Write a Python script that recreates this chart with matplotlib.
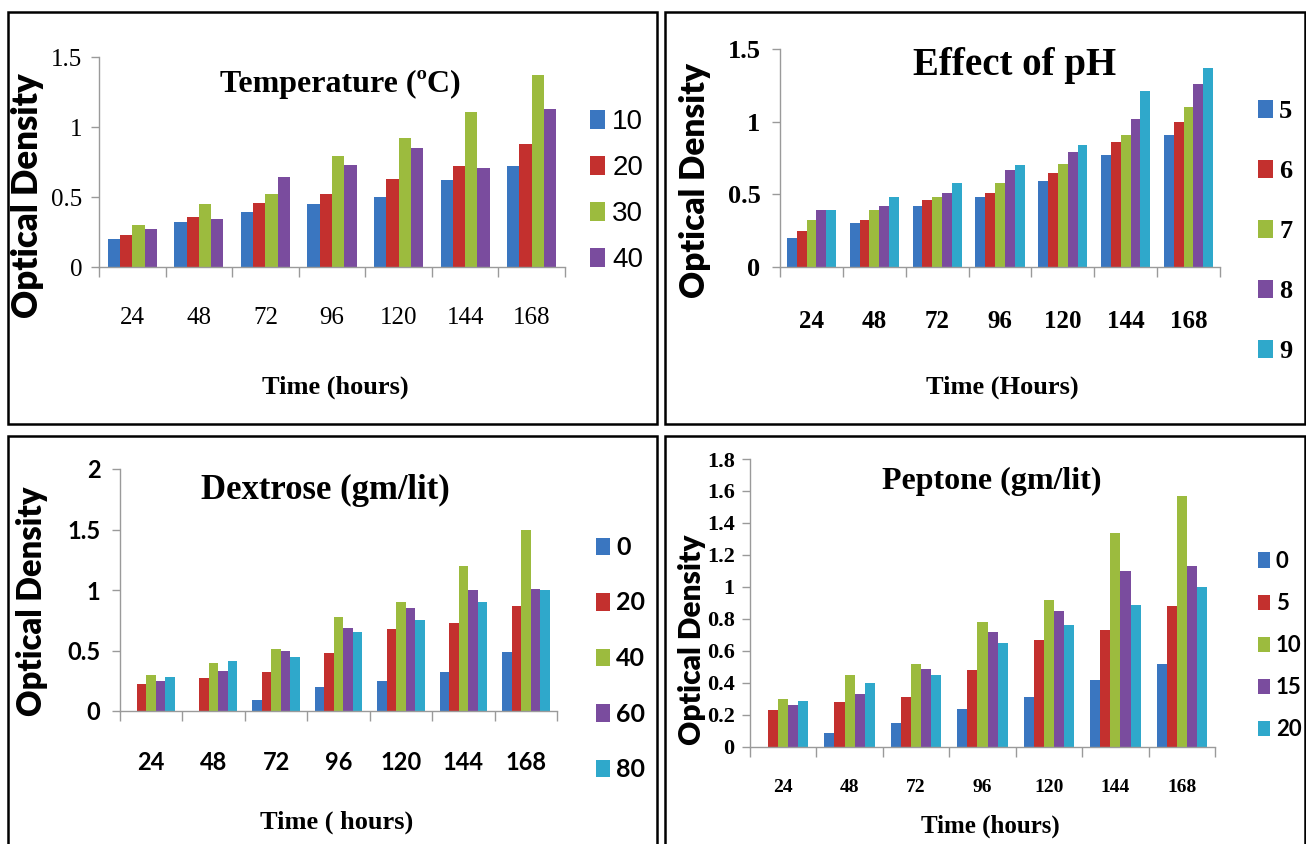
import matplotlib
matplotlib.use("Agg")
import matplotlib.pyplot as plt
import matplotlib.patches as mpatches
import numpy as np
from matplotlib.font_manager import FontProperties

hours = ["24", "48", "72", "96", "120", "144", "168"]

# Temperature (C)
temp_levels = ["10", "20", "30", "40"]
temp_10 = [0.20, 0.32, 0.39, 0.45, 0.50, 0.62, 0.72]
temp_20 = [0.23, 0.36, 0.46, 0.52, 0.63, 0.72, 0.88]
temp_30 = [0.30, 0.45, 0.52, 0.79, 0.92, 1.11, 1.37]
temp_40 = [0.27, 0.34, 0.64, 0.73, 0.85, 0.71, 1.13]

# pH
ph_levels = ["5", "6", "7", "8", "9"]
ph_5 = [0.20, 0.30, 0.42, 0.48, 0.59, 0.77, 0.91]
ph_6 = [0.25, 0.32, 0.46, 0.51, 0.65, 0.86, 1.00]
ph_7 = [0.32, 0.39, 0.48, 0.58, 0.71, 0.91, 1.10]
ph_8 = [0.39, 0.42, 0.51, 0.67, 0.79, 1.02, 1.26]
ph_9 = [0.39, 0.48, 0.58, 0.70, 0.84, 1.21, 1.37]

# Dextrose (gm/lit)
dex_levels = ["0", "20", "40", "60", "80"]
dex_0 = [0.0, 0.0, 0.09, 0.20, 0.25, 0.32, 0.49]
dex_20 = [0.22, 0.27, 0.32, 0.48, 0.68, 0.73, 0.87]
dex_40 = [0.30, 0.40, 0.51, 0.78, 0.90, 1.20, 1.50]
dex_60 = [0.25, 0.33, 0.50, 0.69, 0.85, 1.00, 1.01]
dex_80 = [0.28, 0.41, 0.45, 0.65, 0.75, 0.90, 1.00]

# Peptone (gm/lit)
pep_levels = ["0", "5", "10", "15", "20"]
pep_0 = [0.0, 0.09, 0.15, 0.24, 0.31, 0.42, 0.52]
pep_5 = [0.23, 0.28, 0.31, 0.48, 0.67, 0.73, 0.88]
pep_10 = [0.30, 0.45, 0.52, 0.78, 0.92, 1.34, 1.57]
pep_15 = [0.26, 0.33, 0.49, 0.72, 0.85, 1.10, 1.13]
pep_20 = [0.29, 0.40, 0.45, 0.65, 0.76, 0.89, 1.00]

colors = ["#3a76c0", "#c3302e", "#9cbb3e", "#7a4c9e", "#2fa8cb"]
gray = "#9a9a9a"

W, H = 1306, 844
fig = plt.figure(figsize=(W / 100, H / 100), dpi=100)
fig.patch.set_facecolor("white")


def fx(px):
    return px / W


def fy(py):
    return 1 - py / H


def font(family, size, weight="normal"):
    return FontProperties(family=family, size=size, weight=weight)


serif = ["Liberation Serif", "DejaVu Serif"]
sans = ["Lato", "DejaVu Sans"]
narrow = ["Liberation Sans Narrow", "Liberation Sans", "DejaVu Sans"]

panels = [
    dict(box=(8, 12, 657, 424), axes=(99, 565, 57, 267),
         series=[temp_10, temp_20, temp_30, temp_40], labels=temp_levels,
         ymax=1.5, ystep=0.5, group=0.74,
         title="Temperature (ºC)", title_xy=(340, 84), title_font=font(serif, 23, "bold"),
         xlabel="Time (hours)", xlabel_xy=(335, 387), xlabel_font=font(serif, 19, "bold"),
         ylabel_xy=(28, 196), ylabel_font=font(sans, 25, "heavy"),
         xtick_font=font(serif, 18), ytick_font=font(serif, 18), xpad=29, ypad=6,
         leg_xy=(590, 109), leg_font=font(narrow, 20), leg_space=0.72),
    dict(box=(665, 12, 1305, 424), axes=(780, 1220, 49, 267),
         series=[ph_5, ph_6, ph_7, ph_8, ph_9], labels=ph_levels,
         ymax=1.5, ystep=0.5, group=0.78,
         title="Effect of pH", title_xy=(1015, 66), title_font=font(serif, 28, "bold"),
         xlabel="Time (Hours)", xlabel_xy=(1002, 387), xlabel_font=font(serif, 19, "bold"),
         ylabel_xy=(695, 180), ylabel_font=font(sans, 24, "heavy"),
         xtick_font=font(serif, 18, "bold"), ytick_font=font(serif, 19, "bold"), xpad=31, ypad=8,
         leg_xy=(1258, 100), leg_font=font(serif, 19, "bold"), leg_space=1.38),
    dict(box=(8, 436, 657, 860), axes=(120, 557, 469, 711),
         series=[dex_0, dex_20, dex_40, dex_60, dex_80], labels=dex_levels,
         ymax=2.0, ystep=0.5, group=0.76,
         title="Dextrose (gm/lit)", title_xy=(325, 490), title_font=font(serif, 25, "bold"),
         xlabel="Time ( hours)", xlabel_xy=(337, 822), xlabel_font=font(serif, 19, "bold"),
         ylabel_xy=(32, 601), ylabel_font=font(sans, 23.5, "heavy"),
         xtick_font=font(sans, 17, "bold"), ytick_font=font(sans, 17, "bold"), xpad=29, ypad=8,
         leg_xy=(596, 536), leg_font=font(sans, 18, "bold"), leg_space=1.3),
    dict(box=(665, 436, 1305, 860), axes=(750, 1215, 459, 747),
         series=[pep_0, pep_5, pep_10, pep_15, pep_20], labels=pep_levels,
         ymax=1.8, ystep=0.2, group=0.76,
         title="Peptone (gm/lit)", title_xy=(992, 481), title_font=font(serif, 23, "bold"),
         xlabel="Time (hours)", xlabel_xy=(990, 826), xlabel_font=font(serif, 18, "bold"),
         ylabel_xy=(692, 640), ylabel_font=font(sans, 21.5, "heavy"),
         xtick_font=font(serif, 14, "bold"), ytick_font=font(serif, 16, "bold"), xpad=23, ypad=5,
         leg_xy=(1258, 551), leg_font=font(sans, 16, "bold"), leg_space=0.95),
]

x = np.arange(len(hours))

for p in panels:
    bx0, by0, bx1, by1 = p["box"]
    fig.patches.append(mpatches.Rectangle(
        (fx(bx0), fy(by1)), fx(bx1) - fx(bx0), fy(by0) - fy(by1),
        transform=fig.transFigure, fill=False, edgecolor="black", linewidth=1.8))

    left, right, top, bottom = p["axes"]
    ax = fig.add_axes([fx(left), fy(bottom), fx(right) - fx(left), fy(top) - fy(bottom)])
    ax.patch.set_alpha(0)

    n = len(p["series"])
    bw = p["group"] / n
    handles = []
    for i, (vals, lab) in enumerate(zip(p["series"], p["labels"])):
        bars = ax.bar(x + (i - (n - 1) / 2) * bw, vals, bw, color=colors[i],
                      edgecolor="none", label=lab)
        handles.append(bars)

    ax.set_xlim(-0.5, len(hours) - 0.5)
    ax.set_ylim(0, p["ymax"])
    ax.set_yticks(np.arange(0, p["ymax"] + 1e-9, p["ystep"]))
    ax.set_yticklabels([f"{v:g}" for v in ax.get_yticks()])
    ax.set_xticks(np.arange(-0.5, len(hours), 1.0))
    ax.set_xticklabels([])
    ax.set_xticks(x, minor=True)
    ax.set_xticklabels(hours, minor=True)
    ax.tick_params(axis="x", which="major", length=7, width=1, color=gray, direction="out")
    ax.tick_params(axis="x", which="minor", length=0, pad=p["xpad"])
    ax.tick_params(axis="y", length=6, width=1, color=gray, direction="out", pad=p["ypad"])
    for lab in ax.get_xticklabels(minor=True):
        lab.set_fontproperties(p["xtick_font"])
    for lab in ax.get_yticklabels():
        lab.set_fontproperties(p["ytick_font"])
    for side in ["top", "right"]:
        ax.spines[side].set_visible(False)
    for side in ["left", "bottom"]:
        ax.spines[side].set_color(gray)
        ax.spines[side].set_linewidth(1)

    ax.text(fx(p["title_xy"][0]), fy(p["title_xy"][1]), p["title"], transform=fig.transFigure,
            ha="center", va="center", fontproperties=p["title_font"])
    ax.set_xlabel(p["xlabel"], fontproperties=p["xlabel_font"])
    ax.xaxis.set_label_coords(fx(p["xlabel_xy"][0]), fy(p["xlabel_xy"][1]), transform=fig.transFigure)
    ax.xaxis.label.set_va("center")
    ax.set_ylabel("Optical Density", fontproperties=p["ylabel_font"])
    ax.yaxis.set_label_coords(fx(p["ylabel_xy"][0]), fy(p["ylabel_xy"][1]), transform=fig.transFigure)
    ax.yaxis.label.set_va("center")

    ax.legend(handles=handles, loc="upper left",
              bbox_to_anchor=(fx(p["leg_xy"][0]), fy(p["leg_xy"][1])),
              bbox_transform=fig.transFigure, frameon=False, prop=p["leg_font"],
              handlelength=0.55, handleheight=0.7, handletextpad=0.25,
              labelspacing=p["leg_space"], borderpad=0, borderaxespad=0)

fig.savefig("out.png", dpi=100, facecolor="white")
